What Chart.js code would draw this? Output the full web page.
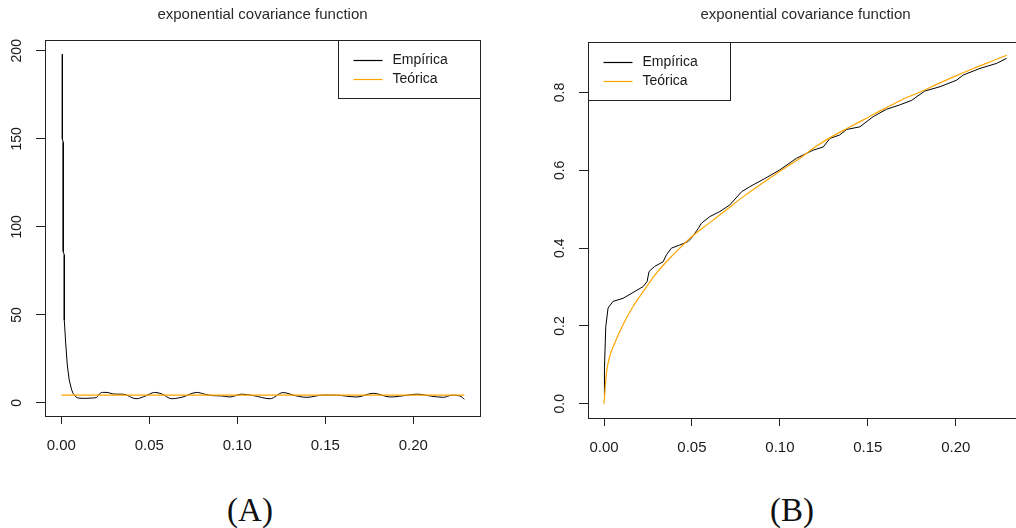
<!DOCTYPE html>
<html>
<head>
<meta charset="utf-8">
<script src="https://cdn.jsdelivr.net/npm/chart.js@4/dist/chart.umd.min.js"></script>
<style>
    html, body { margin: 0; padding: 0; background: #fff; overflow: hidden; }
    #page { position: relative; width: 1016px; height: 528px; overflow: hidden; }
    canvas { position: absolute; top: 0; }
    #chartA { left: 0; }
    #chartB { left: 520px; }
    .panel { position: absolute; top: 490px; font-family: "Liberation Serif", "Times New Roman", serif; font-size: 33px; color: #111; transform: translateX(-50%); line-height: 40px; }
</style>
</head>
<body>
<div id="page">
    <canvas id="chartA" width="510" height="470"></canvas>
    <canvas id="chartB" width="510" height="470"></canvas>
    <div class="panel" style="left:250px">(A)</div>
    <div class="panel" style="left:792px">(B)</div>
</div>
<script>
// dados
const chartTitle = 'exponential covariance function';
const seriesNames = ['Empírica', 'Teórica'];
const seriesColors = ['#000000', '#FFA500'];

// (A) covariância
const lagDropA = [0.0006, 0.0006, 0.0011, 0.0011, 0.0017, 0.0017, 0.0025, 0.0034, 0.0045, 0.0059, 0.0068, 0.0078, 0.009, 0.0106];
const covDropA = [198, 150, 148, 86, 84, 47, 34, 21.6, 13, 7.4, 5.3, 4, 3, 2.7];
const lagOscA = [0.0106, 0.0135, 0.0175, 0.0201, 0.0216, 0.0235, 0.026, 0.029, 0.031, 0.035, 0.0425, 0.048, 0.053, 0.057, 0.0627, 0.069, 0.077, 0.0815, 0.0855, 0.091, 0.0958, 0.1025, 0.109, 0.1186, 0.126, 0.1328, 0.1394, 0.1489, 0.1565, 0.168, 0.1773, 0.1868, 0.196, 0.202, 0.2095, 0.217, 0.222, 0.2265, 0.229];
const covOscA = [2.7, 2.6, 2.8, 3.2, 5.1, 6, 6, 5.2, 5, 5, 2.4, 4, 6, 5.2, 2.4, 3.4, 6, 5, 4.2, 4, 3.4, 5, 4.2, 2.4, 5.9, 4.2, 3.2, 4.5, 4.4, 3.4, 5.5, 3.4, 4.3, 5, 4, 3.2, 4.4, 4, 2.1];
const lagTeoA = [0, 0.229];
const covTeoA = [4.5, 4.4];
const xTicksA = [0, 0.05, 0.1, 0.15, 0.2];
const xLabelsA = ['0.00', '0.05', '0.10', '0.15', '0.20'];
const yTicksA = [0, 50, 100, 150, 200];
const yLabelsA = ['0', '50', '100', '150', '200'];

// (B)
const lagEmpB = [0, 0.0001, 0.0004, 0.001, 0.0023, 0.0051, 0.0108, 0.0165, 0.0222, 0.0245, 0.0256, 0.0288, 0.0336, 0.0355, 0.0383, 0.043, 0.0478, 0.0497, 0.0535, 0.0554, 0.0601, 0.0658, 0.0715, 0.0782, 0.0829, 0.0914, 0.0999, 0.1094, 0.1189, 0.1246, 0.1284, 0.134, 0.1379, 0.1455, 0.153, 0.1606, 0.168, 0.1749, 0.1824, 0.191, 0.2005, 0.2042, 0.2137, 0.2232, 0.2289];
const valEmpB = [0.023, 0.087, 0.092, 0.198, 0.246, 0.263, 0.271, 0.286, 0.301, 0.314, 0.340, 0.353, 0.365, 0.383, 0.400, 0.408, 0.417, 0.426, 0.450, 0.464, 0.481, 0.494, 0.511, 0.545, 0.558, 0.579, 0.601, 0.631, 0.652, 0.660, 0.682, 0.691, 0.705, 0.712, 0.738, 0.757, 0.768, 0.780, 0.804, 0.815, 0.832, 0.845, 0.862, 0.875, 0.888];
const lagTeoB = [0, 0.0014, 0.0032, 0.0061, 0.0108, 0.0165, 0.0222, 0.0298, 0.0374, 0.043, 0.05, 0.06, 0.07, 0.08, 0.09, 0.1, 0.11, 0.12, 0.13, 0.14, 0.15, 0.16, 0.17, 0.18, 0.19, 0.2, 0.21, 0.22, 0.229];
const valTeoB = [0, 0.079, 0.121, 0.156, 0.203, 0.25, 0.288, 0.336, 0.374, 0.40, 0.43, 0.465, 0.50, 0.535, 0.567, 0.598, 0.627, 0.66, 0.688, 0.712, 0.736, 0.76, 0.783, 0.802, 0.823, 0.843, 0.862, 0.88, 0.896];
const xTicksB = [0, 0.05, 0.1, 0.15, 0.2];
const xLabelsB = ['0.00', '0.05', '0.10', '0.15', '0.20'];
const yTicksB = [0, 0.2, 0.4, 0.6, 0.8];
const yLabelsB = ['0.0', '0.2', '0.4', '0.6', '0.8'];

const FONT = "'Liberation Sans', Arial, sans-serif";

function pts(xs, ys) {
    return xs.map((x, i) => ({ x: x, y: ys[i] }));
}

// moldura, título, rótulos do eixo y e legenda no estilo do R
const rFrame = {
    id: 'rFrame',
    afterDraw(chart, args, opts) {
        const ctx = chart.ctx;
        const ca = chart.chartArea;
        ctx.save();
        ctx.strokeStyle = '#222';
        ctx.lineWidth = 1;
        ctx.strokeRect(Math.round(ca.left) + 0.5, Math.round(ca.top) + 0.5, Math.round(ca.right - ca.left), Math.round(ca.bottom - ca.top));

        ctx.fillStyle = '#2a2a2a';
        ctx.font = '15px ' + FONT;
        ctx.textAlign = 'center';
        ctx.textBaseline = 'middle';
        ctx.fillText(chartTitle, (ca.left + ca.right) / 2, 15);

        const ys = chart.scales.y;
        ctx.fillStyle = '#1a1a1a';
        ctx.font = '14px ' + FONT;
        opts.yTicks.forEach((v, i) => {
            ctx.save();
            ctx.translate(ca.left - 27.5, ys.getPixelForValue(v));
            ctx.rotate(-Math.PI / 2);
            ctx.fillText(opts.yLabels[i], 0, 0);
            ctx.restore();
        });

        const w = 142, h = 58;
        const x0 = Math.round(opts.legendSide === 'right' ? ca.right - w : ca.left) + 0.5;
        const y0 = Math.round(ca.top) + 0.5;
        ctx.fillStyle = '#fff';
        ctx.fillRect(x0, y0, w, h);
        ctx.strokeStyle = '#222';
        ctx.strokeRect(x0, y0, w, h);
        seriesNames.forEach((name, i) => {
            const yy = Math.round(y0 + 19.5 + i * 19) + 0.5;
            ctx.strokeStyle = seriesColors[i];
            ctx.lineWidth = 1.2;
            ctx.beginPath();
            ctx.moveTo(x0 + 15, yy);
            ctx.lineTo(x0 + 44, yy);
            ctx.stroke();
            ctx.fillStyle = '#1a1a1a';
            ctx.textAlign = 'left';
            ctx.font = '14px ' + FONT;
            ctx.fillText(name, x0 + 54, yy);
        });
        ctx.restore();
    }
};

function rChart(id, o) {
    return new Chart(document.getElementById(id), {
        type: 'line',
        data: { datasets: o.datasets },
        options: {
            responsive: false,
            animation: false,
            events: [],
            layout: { padding: o.padding },
            elements: { point: { radius: 0 } },
            plugins: {
                legend: { display: false },
                tooltip: { enabled: false },
                rFrame: { yTicks: o.yTicks, yLabels: o.yLabels, legendSide: o.legendSide }
            },
            scales: {
                x: {
                    type: 'linear', min: o.xMin, max: o.xMax,
                    afterFit: s => { s.height = o.xAxisH; },
                    afterBuildTicks: s => { s.ticks = o.xTicks.map(v => ({ value: v })); },
                    border: { display: false },
                    grid: { drawOnChartArea: false, drawTicks: true, tickLength: 8, color: '#222', lineWidth: 1 },
                    ticks: { font: { family: FONT, size: 15 }, color: '#1a1a1a', padding: 13, maxRotation: 0, autoSkip: false, callback: (v, i) => o.xLabels[i] }
                },
                y: {
                    type: 'linear', min: o.yMin, max: o.yMax,
                    afterFit: s => { s.width = o.yAxisW; },
                    afterBuildTicks: s => { s.ticks = o.yTicks.map(v => ({ value: v })); },
                    border: { display: false },
                    grid: { drawOnChartArea: false, drawTicks: true, tickLength: 9, color: '#222', lineWidth: 1 },
                    ticks: { display: false }
                }
            }
        },
        plugins: [rFrame]
    });
}

rChart('chartA', {
    padding: { left: 0, top: 40, right: 30, bottom: 0 },
    xAxisH: 54, yAxisW: 45,
    xMin: -0.00926, xMax: 0.2379, yMin: -7.4, yMax: 206.1,
    xTicks: xTicksA, xLabels: xLabelsA, yTicks: yTicksA, yLabels: yLabelsA,
    legendSide: 'right',
    datasets: [
        { label: seriesNames[1], data: pts(lagTeoA, covTeoA), borderColor: seriesColors[1], borderWidth: 1.2, tension: 0, order: 0 },
        { label: seriesNames[0], data: pts(lagDropA, covDropA), borderColor: seriesColors[0], borderWidth: 1, tension: 0, order: 1 },
        { data: pts(lagOscA, covOscA), borderColor: seriesColors[0], borderWidth: 1, cubicInterpolationMode: 'monotone', order: 1 }
    ]
});

rChart('chartB', {
    padding: { left: 0, top: 42, right: 7, bottom: 0 },
    xAxisH: 52, yAxisW: 68,
    xMin: -0.0091, xMax: 0.2382, yMin: -0.0367, yMax: 0.930,
    xTicks: xTicksB, xLabels: xLabelsB, yTicks: yTicksB, yLabels: yLabelsB,
    legendSide: 'left',
    datasets: [
        { label: seriesNames[1], data: pts(lagTeoB, valTeoB), borderColor: seriesColors[1], borderWidth: 1.2, cubicInterpolationMode: 'monotone', order: 0 },
        { label: seriesNames[0], data: pts(lagEmpB, valEmpB), borderColor: seriesColors[0], borderWidth: 1, tension: 0, order: 1 }
    ]
});
</script>
</body>
</html>
